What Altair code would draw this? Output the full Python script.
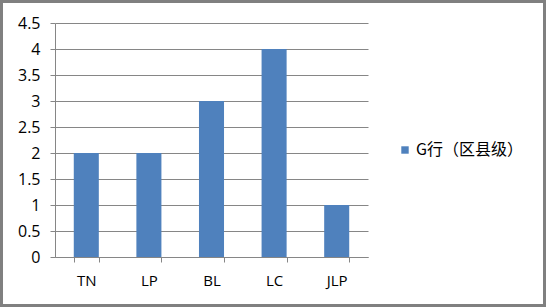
import altair as alt
import pandas as pd

categories = ["TN", "LP", "BL", "LC", "JLP"]
values = [2, 2, 3, 4, 1]
series_name = "G行（区县级）"
y_ticks = [0, 0.5, 1, 1.5, 2, 2.5, 3, 3.5, 4, 4.5]

df = pd.DataFrame({"cat": categories, "val": values, "series": [series_name] * len(categories)})

FONT = "Open Sans"
GRID = "#868686"

bars = alt.Chart(df).mark_bar(color="#4F81BD").encode(
    x=alt.X("cat:N", sort=categories, title=None,
            scale=alt.Scale(paddingInner=0.6, paddingOuter=0.3),
            axis=alt.Axis(labelAngle=0, labelFontSize=15, labelFont=FONT, labelColor="#000000",
                          labelPadding=11, domainColor=GRID, tickColor=GRID, tickSize=5,
                          tickBand="extent", grid=False)),
    y=alt.Y("val:Q", title=None,
            scale=alt.Scale(domain=[0, 4.5], nice=False),
            axis=alt.Axis(values=y_ticks, format="~g",
                          labelFontSize=16, labelFont=FONT, labelColor="#000000",
                          labelPadding=10, domainColor=GRID, tickColor=GRID, tickSize=5,
                          gridColor=GRID, grid=True)),
    color=alt.Color("series:N", scale=alt.Scale(range=["#4F81BD"]), title=None,
                    legend=alt.Legend(orient="none", legendX=342, legendY=119,
                                      symbolType="square", symbolSize=55,
                                      labelFontSize=16, labelFont="Noto Sans CJK SC",
                                      labelColor="#000000", labelOffset=3,
                                      symbolStrokeWidth=0)),
)

border = alt.Chart(pd.DataFrame({"a": [0]})).mark_rect(
    fill=None, stroke="#808080", strokeWidth=3
).encode(
    x=alt.value(-53.5), x2=alt.value(489.5), y=alt.value(-21.5), y2=alt.value(282.5)
)

chart = alt.layer(bars, border).properties(
    width=313, height=234,
    padding={"left": 55, "top": 23, "right": 178, "bottom": 50},
    autosize=alt.AutoSizeParams(type="none"),
    background="white",
).configure_view(stroke=None)

chart.save("out.html", embed_options={"renderer": "svg", "actions": False})
